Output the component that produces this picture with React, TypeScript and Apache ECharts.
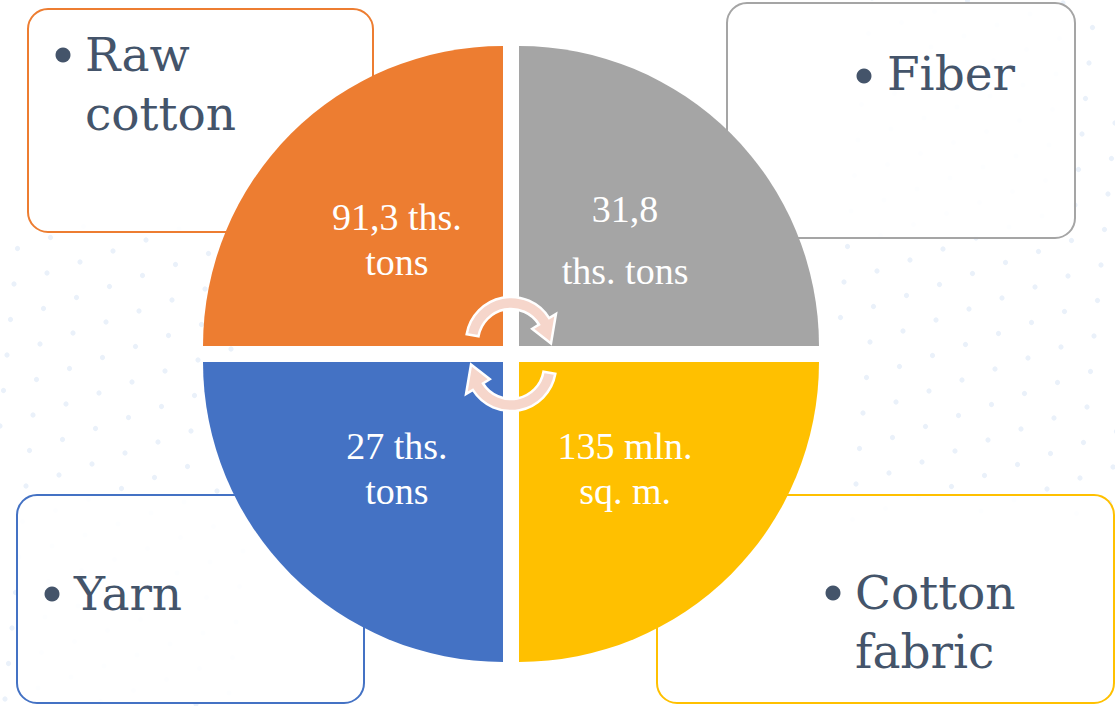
import React, { useEffect, useRef } from "react";
import * as echarts from "echarts";

// Diagram content
const categories = ["Raw cotton", "Fiber", "Cotton fabric", "Yarn"];
const categoryLines = ["Raw\ncotton", "Fiber", "Cotton\nfabric", "Yarn"];
const valueLabels = ["91,3 ths.\ntons", "31,8\n\nths. tons", "135 mln.\nsq. m.", "27 ths.\ntons"];
const shares = [1, 1, 1, 1]; // four equal quadrants
const colors = ["#ED7D31", "#A5A5A5", "#FFC000", "#4472C4"];

const CX = 511;
const CY = 354;
const R = 300;
const GAP = 8;
const TEXT = "#44546A";

function arrowPath(): string {
  const Ro = 45, Ri = 33, Rm = (Ro + Ri) / 2;
  const d2r = Math.PI / 180;
  const a0 = 190 * d2r, a1 = 328 * d2r, at = 2 * d2r;
  const p = (r: number, a: number) => `${(r * Math.cos(a)).toFixed(2)} ${(r * Math.sin(a)).toFixed(2)}`;
  return `M ${p(Ro, a0)} A ${Ro} ${Ro} 0 0 1 ${p(Ro, a1)} L ${p(Ro + 8, a1)} L ${p(Rm + 1, at)} L ${p(Ri - 8, a1)} L ${p(Ri, a1)} A ${Ri} ${Ri} 0 0 0 ${p(Ri, a0)} Z`;
}

export default function App() {
  const ref = useRef<HTMLDivElement>(null);
  useEffect(() => {
    document.body.style.margin = "0";
    echarts.graphic.registerShape("curvedArrow", echarts.graphic.extendPath(arrowPath(), {}));
    const chart = echarts.init(ref.current!, null, { renderer: "svg" });

    // faint decorative dot lattice
    const dots: any[] = [];
    for (let i = -10; i < 45; i++) {
      for (let j = -10; j < 30; j++) {
        const x = 9 + i * 33 - j * 3.5;
        const y = 11 - i * 11 + j * 35.5;
        if (x < -5 || x > 1120 || y < -5 || y > 711) continue;
        const left = x < 250 && y > 220;
        const right = x > 840 && y < 520;
        if (!left && !right) continue;
        dots.push({ type: "circle", shape: { cx: x, cy: y, r: 2.6 }, style: { fill: "#EAF1FA" }, z: 0, silent: true });
      }
    }

    const boxes = [
      { x: 28, y: 9, w: 345, h: 223, c: colors[0] },
      { x: 727, y: 3, w: 348, h: 235, c: colors[1] },
      { x: 657, y: 495, w: 457, h: 208, c: colors[2] },
      { x: 17, y: 495, w: 347, h: 208, c: colors[3] },
    ];
    const bullets = [
      { bx: 63, by: 55, tx: 85, ty: 84 },
      { bx: 864, by: 76, tx: 887, ty: 73 },
      { bx: 833, by: 593, tx: 855, ty: 622 },
      { bx: 52, by: 594, tx: 74, ty: 593 },
    ];

    const elements: any[] = [...dots];
    boxes.forEach((b) => {
      elements.push({
        type: "rect",
        z: 1,
        shape: { x: b.x, y: b.y, width: b.w, height: b.h, r: 20 },
        style: { fill: "rgba(255,255,255,0.9)", stroke: b.c, lineWidth: 2 },
      });
    });
    bullets.forEach((b, i) => {
      elements.push({ type: "circle", z: 10, shape: { cx: b.bx, cy: b.by, r: 7.5 }, style: { fill: TEXT } });
      elements.push({
        type: "text",
        z: 10,
        x: b.tx,
        y: b.ty,
        style: {
          text: categoryLines[i],
          fill: TEXT,
          font: '47px "DejaVu Serif"',
          textAlign: "left",
          textVerticalAlign: "middle",
          align: "left",
          verticalAlign: "middle",
          lineHeight: 59,
        },
      });
    });
    const arrowStyle = { fill: "#F6D6CB", stroke: "#FFFFFF", lineWidth: 2.5 };
    elements.push({ type: "curvedArrow", z: 20, x: CX, y: CY - 12, style: arrowStyle });
    elements.push({ type: "curvedArrow", z: 20, x: CX, y: CY + 12, rotation: Math.PI, style: arrowStyle });

    const total = shares.reduce((a, b) => a + b, 0);

    chart.setOption({
      animation: false,
      backgroundColor: "#FFFFFF",
      graphic: { elements },
      series: [
        {
          type: "custom",
          name: "Cotton chain",
          coordinateSystem: "none",
          z: 5,
          data: shares.map((v, i) => ({ value: v, name: categories[i] })),
          renderItem: (params: any) => {
            const i = params.dataIndex;
            const before = shares.slice(0, i).reduce((a, b) => a + b, 0);
            const start = Math.PI + (before / total) * Math.PI * 2;
            const end = start + (shares[i] / total) * Math.PI * 2;
            const mid = (start + end) / 2;
            const cx = CX + Math.sign(Math.cos(mid)) * GAP;
            const cy = CY + Math.sign(Math.sin(mid)) * GAP;
            const lx = cx + 0.5 * R * Math.cos(mid);
            const ly = cy + 0.5 * R * Math.sin(mid);
            const label = valueLabels[i];
            return {
              type: "group",
              children: [
                {
                  type: "sector",
                  shape: { cx, cy, r0: 0, r: R, startAngle: start, endAngle: end, clockwise: true },
                  style: { fill: colors[i] },
                },
                {
                  type: "text",
                  x: lx,
                  y: ly,
                  style: {
                    text: label,
                    fill: "#FFFFFF",
                    font: '38px "Liberation Serif"',
                    textAlign: "center",
                    textVerticalAlign: "middle",
                    align: "center",
                    verticalAlign: "middle",
                    lineHeight: label.includes("\n\n") ? 31 : 45,
                  },
                },
              ],
            };
          },
        },
      ],
    });
    return () => chart.dispose();
  }, []);
  return <div ref={ref} style={{ width: 1115, height: 706 }} />;
}
